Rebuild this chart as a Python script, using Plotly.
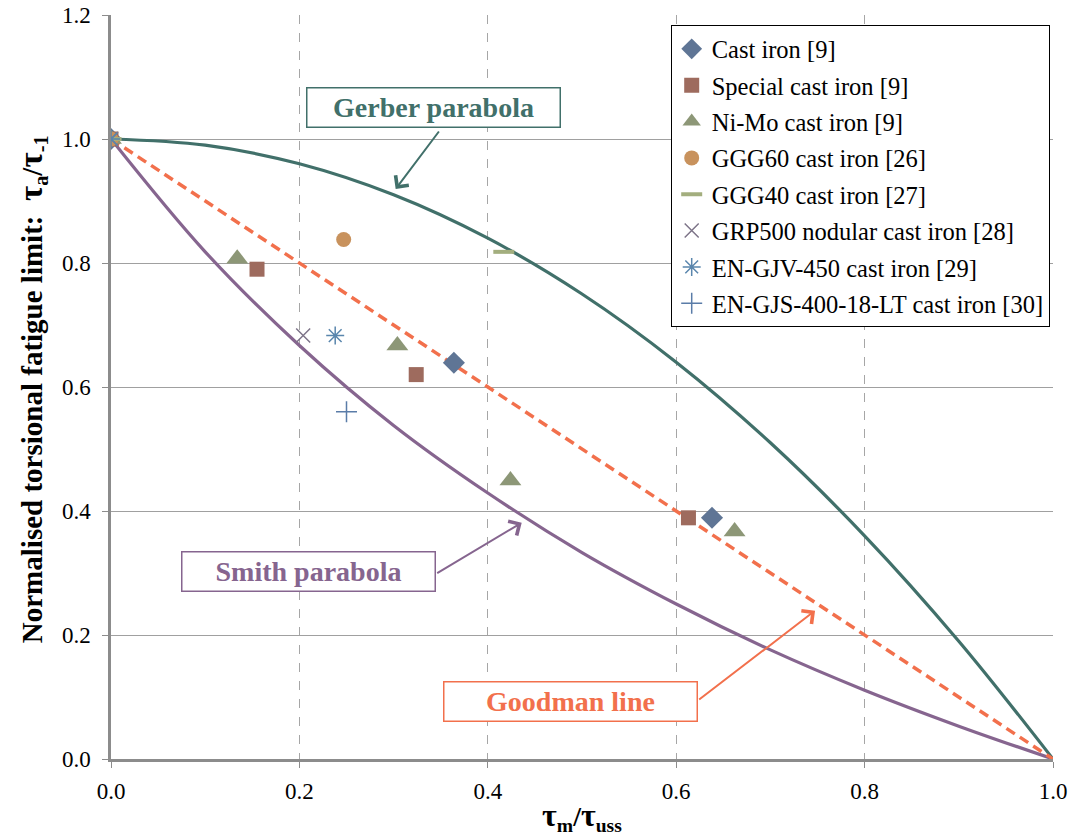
import plotly.graph_objects as go

# ---- data ----
curve_x = [0.0, 0.1, 0.2, 0.3, 0.4, 0.5, 0.6, 0.7, 0.8, 0.9, 1.0]
gerber_y = [1.0, 0.99, 0.96, 0.91, 0.84, 0.75, 0.64, 0.51, 0.36, 0.19, 0.0]
smith_y = [1.0, 0.818, 0.667, 0.538, 0.429, 0.333, 0.25, 0.176, 0.111, 0.053, 0.0]
goodman_x = [0.0, 1.0]
goodman_y = [1.0, 0.0]

cast_x = [0.0, 0.364, 0.638]
cast_y = [1.0, 0.639, 0.389]
special_x = [0.0, 0.155, 0.324, 0.613]
special_y = [1.0, 0.79, 0.62, 0.389]
nimo_x = [0.0, 0.134, 0.304, 0.424, 0.662]
nimo_y = [1.0, 0.807, 0.667, 0.449, 0.367]
ggg60_x = [0.0, 0.247]
ggg60_y = [1.0, 0.838]
ggg40_x = [0.0, 0.417]
ggg40_y = [1.0, 0.818]
grp500_x = [0.0, 0.204]
grp500_y = [1.0, 0.683]
gjv_x = [0.0, 0.238]
gjv_y = [1.0, 0.683]
gjs_x = [0.25]
gjs_y = [0.56]

x_ticks = [0.0, 0.2, 0.4, 0.6, 0.8, 1.0]
y_ticks = [0.0, 0.2, 0.4, 0.6, 0.8, 1.0, 1.2]

FONT = "Liberation Serif"
GERBER_C = "#41706A"
SMITH_C = "#86658F"
GOODMAN_C = "#F2704C"

fig = go.Figure()

fig.add_trace(go.Scatter(x=curve_x, y=gerber_y, mode="lines", line=dict(color=GERBER_C, width=3.2, shape="spline"),
                         showlegend=False, hoverinfo="skip"))
fig.add_trace(go.Scatter(x=curve_x, y=smith_y, mode="lines", line=dict(color=SMITH_C, width=3.2, shape="spline"),
                         showlegend=False, hoverinfo="skip"))
fig.add_trace(go.Scatter(x=goodman_x, y=goodman_y, mode="lines", line=dict(color=GOODMAN_C, width=3.5, dash="10px,6px"),
                         showlegend=False, hoverinfo="skip"))

series = [
    ("Cast iron [9]", cast_x, cast_y, dict(symbol="diamond", size=17, color="#5F7595")),
    ("Special cast iron [9]", special_x, special_y, dict(symbol="square", size=15, color="#9E6B5E")),
    ("Ni-Mo cast iron [9]", nimo_x, nimo_y, dict(symbol="triangle-up", size=19, color="#8D9777")),
    ("GGG60 cast iron [26]", ggg60_x, ggg60_y, dict(symbol="circle", size=15, color="#C8925D")),
    ("GGG40 cast iron [27]", ggg40_x, ggg40_y, dict(symbol="line-ew-open", size=15, color="#A3AE7E",
                                                    line=dict(width=4, color="#A3AE7E"))),
    ("GRP500 nodular cast iron [28]", grp500_x, grp500_y, dict(symbol="x-thin-open", size=14, color="#7E7589",
                                                               line=dict(width=1.5, color="#7E7589"))),
    ("EN-GJV-450 cast iron [29]", gjv_x, gjv_y, dict(symbol="asterisk-open", size=15, color="#5A86AD",
                                                    line=dict(width=1.5, color="#5A86AD"))),
    ("EN-GJS-400-18-LT cast iron [30]", gjs_x, gjs_y, dict(symbol="cross-thin-open", size=15, color="#5A7CA8",
                                                           line=dict(width=1.5, color="#5A7CA8"))),
]
for i, (name, xs, ys, mk) in enumerate(series):
    fig.add_trace(go.Scatter(x=xs, y=ys, mode="markers", name=name, marker=mk, legendgroup=f"g{i}"))

# text boxes
boxes = [
    ("Gerber parabola", 0.3426, 1.0508, GERBER_C),
    ("Smith parabola", 0.2099, 0.3029, SMITH_C),
    ("Goodman line", 0.4878, 0.0932, GOODMAN_C),
]
for txt, bx, by, c in boxes:
    fig.add_annotation(x=bx, y=by, xref="x", yref="y", text=f"<b>{txt}</b>", showarrow=False,
                       font=dict(family=FONT, size=28, color=c), bgcolor="white",
                       bordercolor=c, borderwidth=1.5, borderpad=1, width=250, height=36)

# arrows
arrows = [
    (0.3022, 0.9194, 0.3493, 1.0145, GERBER_C),
    (0.4360, 0.3811, 0.3447, 0.2984, SMITH_C),
    (0.7474, 0.2392, 0.6228, 0.0940, GOODMAN_C),
]
for hx, hy, tx, ty, c in arrows:
    fig.add_annotation(x=hx, y=hy, ax=tx, ay=ty, xref="x", yref="y", axref="x", ayref="y", text="",
                       showarrow=True, arrowhead=4, arrowsize=1.6, arrowwidth=2, arrowcolor=c)

# y axis title
fig.add_annotation(x=-0.0839, y=0.497, xref="paper", yref="paper", xanchor="center", yanchor="middle",
                   textangle=-90, showarrow=False,
                   text="<b>Normalised torsional fatigue limit:  <span style='font-size:33px'>τ</span>"
                        "<sub>a</sub>/<span style='font-size:33px'>τ</span><sub>-1</sub></b>",
                   font=dict(family=FONT, size=29, color="black"))

fig.update_layout(
    width=1073, height=836,
    margin=dict(l=111, r=20, t=15, b=77),
    plot_bgcolor="white", paper_bgcolor="white",
    font=dict(family=FONT, size=23, color="black"),
    hovermode=False,
    legend=dict(x=0.9965, y=0.986, xanchor="right", yanchor="top", bgcolor="white",
                bordercolor="black", borderwidth=1, font=dict(family=FONT, size=24.5, color="black"),
                tracegroupgap=1.5, itemsizing="trace"),
    xaxis=dict(range=[0, 1.0], tickvals=x_ticks, ticktext=[f"{v:.1f}" for v in x_ticks],
               tickfont=dict(family=FONT, size=23, color="black"), automargin=False,
               showgrid=True, gridcolor="#A6A6A6", griddash="dash", gridwidth=1,
               showline=True, linecolor="#8C8C8C", linewidth=2.5, zeroline=False,
               ticks="outside", ticklen=6, tickcolor="#8C8C8C", ticklabelstandoff=4,
               title=dict(text="<b><span style='font-size:32px'>τ</span><sub>m</sub>/<span style='font-size:32px'>τ</span><sub>uss</sub></b>",
                          font=dict(family=FONT, size=28), standoff=4)),
    yaxis=dict(range=[0, 1.2], tickvals=y_ticks, ticktext=[f"{v:.1f}" for v in y_ticks],
               tickfont=dict(family=FONT, size=23, color="black"), automargin=False,
               showgrid=True, gridcolor="#A0A0A0", gridwidth=1.3,
               showline=True, linecolor="#8C8C8C", linewidth=2.5, zeroline=False,
               ticks="outside", ticklen=6, tickcolor="#8C8C8C", ticklabelstandoff=7),
)

fig.write_html("out.html")
